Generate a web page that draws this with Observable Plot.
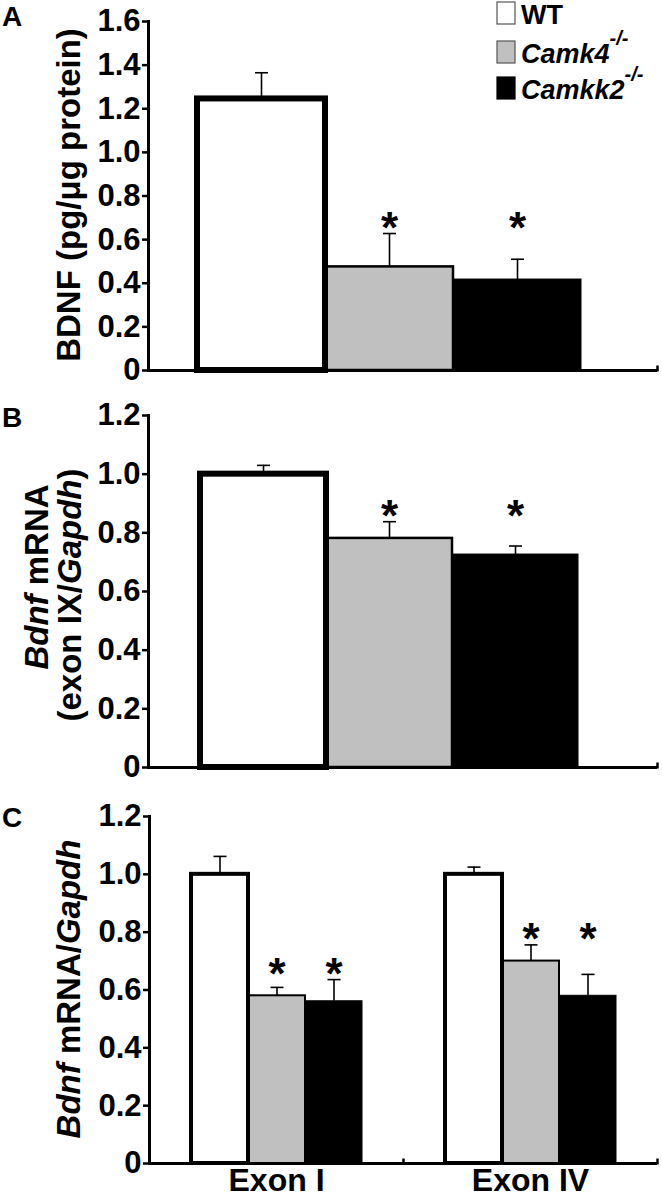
<!DOCTYPE html>
<html><head><meta charset="utf-8">
<script src="https://cdn.jsdelivr.net/npm/d3@7"></script>
<script src="https://cdn.jsdelivr.net/npm/@observablehq/plot@0.6"></script>
<style>
html,body{margin:0;padding:0;background:#fff;}
#fig{position:relative;width:662px;height:1199px;overflow:hidden;}
#fig svg{position:absolute;left:0;overflow:visible;}
</style></head><body><div id="fig"></div>
<script>
// ---- data ----
const genotypes = ["WT", "Camk4-/-", "Camkk2-/-"];
const significant = [false, true, true];
// Panel A: BDNF protein (pg/µg protein)
const proteinValues = [1.245, 0.475, 0.417];
const proteinErrors = [0.12, 0.153, 0.093];
// Panel B: Bdnf mRNA exon IX / Gapdh
const exon9Values = [1.0, 0.781, 0.726];
const exon9Errors = [0.03, 0.057, 0.029];
// Panel C: Bdnf mRNA / Gapdh for exon I and exon IV
const exonGroups = ["Exon I", "Exon IV"];
const exonIValues = [1.0, 0.58, 0.561];
const exonIErrors = [0.062, 0.029, 0.075];
const exonIVValues = [1.0, 0.70, 0.58];
const exonIVErrors = [0.025, 0.056, 0.074];
const ticksA = [0, 0.2, 0.4, 0.6, 0.8, 1.0, 1.2, 1.4, 1.6];
const ticksBC = [0, 0.2, 0.4, 0.6, 0.8, 1.0, 1.2];
const colors = ["white", "#c0c0c0", "black"];

const FONT = "'Liberation Sans', Arial, Helvetica, sans-serif";
const fig = document.getElementById("fig");

function rowsFor(group, values, errors) {
  return genotypes.map((g, i) => ({group, g, value: values[i], err: errors[i], sig: significant[i]}));
}
const fmt = d => d === 0 ? "0" : d.toFixed(1);

const capSym = {draw(ctx) { ctx.moveTo(-6.5, 0); ctx.lineTo(6.5, 0); }};
const endTickSym = {draw(ctx) { ctx.moveTo(0, 1); ctx.lineTo(0, -5); }};

function panel(o) {
  const rows = o.rows;
  const sig = rows.filter(d => d.sig);
  const level = d3.rollup(sig, v => d3.max(v, d => d.value + d.err), d => d.group);
  const stars = sig.map(d => ({...d, level: level.get(d.group)}));
  const marks = [
    Plot.axisY({ticks: o.ticks, tickFormat: fmt, tickSize: 6, tickPadding: 2, strokeWidth: 2.5,
      fontSize: 31, fontWeight: "bold", label: null}),
    Plot.barY(rows, {filter: d => d.g === genotypes[1], fx: "group", x: "g", y: "value",
      fill: colors[1], stroke: "black", strokeWidth: o.grayStroke}),
    Plot.barY(rows, {filter: d => d.g === genotypes[2], fx: "group", x: "g", y: "value",
      fill: colors[2], stroke: "black", strokeWidth: 1}),
    Plot.barY(rows, {filter: d => d.g === genotypes[0], fx: "group", x: "g", y: "value",
      fill: colors[0], stroke: "black", strokeWidth: o.wtStroke}),
    Plot.ruleX(rows, {fx: "group", x: "g", y1: "value", y2: d => d.value + d.err, stroke: "black", strokeWidth: 1.6}),
    Plot.dot(rows, {fx: "group", x: "g", y: d => d.value + d.err, symbol: capSym, r: 5,
      fill: "none", stroke: "black", strokeWidth: 1.6}),
    Plot.text(stars, {fx: "group", x: "g", y: "level", text: () => "*", lineAnchor: "bottom", dy: 9,
      fontSize: 44, fontWeight: "bold", fill: "black"}),
    Plot.ruleY([0], {stroke: "black", strokeWidth: 3}),
    Plot.frame({anchor: "left", facetAnchor: "left", stroke: "black", strokeWidth: 3}),
    Plot.dot([null], {frameAnchor: "bottom-right", symbol: endTickSym, r: 5, fill: "none", stroke: "black", strokeWidth: 2.5})
  ];
  if (o.fxAxis) marks.push(Plot.axisFx({anchor: "bottom", tickSize: 0, tickPadding: 5, fontSize: 32, fontWeight: "bold", label: null}));
  const plot = Plot.plot({
    width: 662,
    height: o.marginTop + o.frameH + o.marginBottom,
    marginLeft: 148, marginRight: 5, marginTop: o.marginTop, marginBottom: o.marginBottom,
    style: {fontFamily: FONT, background: "transparent", color: "black", overflow: "visible"},
    fx: {domain: o.groups, padding: 0, axis: o.fxAxis ? undefined : null, label: null},
    x: {domain: genotypes, paddingInner: 0, paddingOuter: o.pad, align: o.align, axis: null},
    y: {domain: [0, o.yMax], axis: null},
    marks
  });
  plot.style.top = o.top + "px";
  fig.appendChild(plot);
  const svg = d3.select(plot);
  // panel letter
  svg.append("text").attr("x", 2).attr("y", o.letterY).attr("text-anchor", "start").attr("font-family", FONT)
    .attr("font-size", 28).attr("font-weight", "bold").attr("fill", "black").text(o.letter);
  // y label lines (rotated, mixed italic)
  o.ylabel.forEach(line => {
    const t = svg.append("text")
      .attr("transform", `translate(${line.x},${line.y ?? o.labelY}) rotate(-90)`)
      .attr("text-anchor", "middle").attr("font-family", FONT).attr("font-size", 33)
      .attr("font-weight", "bold").attr("fill", "black");
    line.parts.forEach(p => t.append("tspan").attr("font-style", p.i ? "italic" : null).text(p.t));
  });
  return svg;
}

// Panel A
const svgA = panel({
  rows: rowsFor("", proteinValues, proteinErrors), groups: [""], ticks: ticksA, yMax: 1.6,
  top: 0, marginTop: 21, frameH: 349, marginBottom: 10, pad: 0.477, align: 0.39,
  wtStroke: 6, grayStroke: 2.5, fxAxis: false, letter: "A", letterY: 26, labelY: 195,
  ylabel: [{x: 80, parts: [{t: "BDNF (pg/\u03bcg protein)"}]}]
});
// Panel B
panel({
  rows: rowsFor("", exon9Values, exon9Errors), groups: [""], ticks: ticksBC, yMax: 1.2,
  top: 395, marginTop: 20, frameH: 352, marginBottom: 10, pad: 0.51, align: 0.394,
  wtStroke: 6, grayStroke: 2.5, fxAxis: false, letter: "B", letterY: 32, labelY: 196,
  ylabel: [
    {x: 48, y: 182, parts: [{t: "Bdnf", i: true}, {t: " mRNA"}]},
    {x: 81, y: 200, parts: [{t: "(exon IX/"}, {t: "Gapdh", i: true}, {t: ")"}]}
  ]
});
// Panel C
panel({
  rows: [...rowsFor(exonGroups[0], exonIValues, exonIErrors), ...rowsFor(exonGroups[1], exonIVValues, exonIVErrors)],
  groups: exonGroups, ticks: ticksBC, yMax: 1.2,
  top: 790, marginTop: 26, frameH: 347, marginBottom: 36, pad: 0.72, align: 0.5,
  wtStroke: 4, grayStroke: 2, fxAxis: true, letter: "C", letterY: 37, labelY: 199,
  ylabel: [{x: 80, parts: [{t: "Bdnf", i: true}, {t: " mRNA/"}, {t: "Gapdh", i: true}]}]
});

// Legend (in panel A)
const legendItems = [
  {name: "WT", italic: false, sup: ""},
  {name: "Camk4", italic: true, sup: "-/-"},
  {name: "Camkk2", italic: true, sup: "-/-"}
];
const legendTops = [2, 41, 77];
legendItems.forEach((it, i) => {
  svgA.append("rect").attr("x", 497).attr("y", legendTops[i]).attr("width", 18).attr("height", 22)
    .attr("fill", colors[i]).attr("stroke", i === 2 ? "black" : "#555").attr("stroke-width", 1.2);
  const t = svgA.append("text").attr("x", 521).attr("y", legendTops[i] + 22).attr("text-anchor", "start")
    .attr("font-family", FONT).attr("font-size", 27).attr("font-weight", "bold").attr("fill", "black");
  t.append("tspan").attr("font-style", it.italic ? "italic" : null).text(it.name);
  if (it.sup) t.append("tspan").attr("font-size", 20).attr("font-style", "italic").attr("dy", -18).text(it.sup);
});
</script></body></html>
